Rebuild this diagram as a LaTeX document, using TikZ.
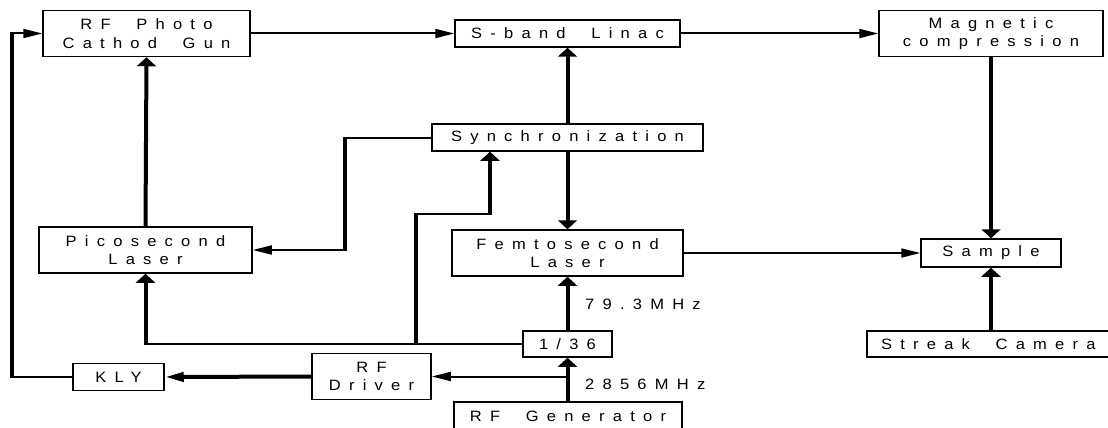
\documentclass[tikz,border=0pt]{standalone}
\usepackage{fontspec}
\setmainfont{Liberation Sans}[LetterSpace=55,FakeStretch=1.1,WordSpace=2]
\usetikzlibrary{arrows.meta,calc}
\begin{document}
\begin{tikzpicture}[x=1pt,y=-1pt,
  box/.style={draw,line width=1.5pt,inner sep=0pt,align=center,
    font=\fontsize{15}{18.5}\selectfont},
  lbl/.style={inner sep=0pt,anchor=west,font=\fontsize{15}{18.5}\selectfont},
  thinln/.style={line width=2pt},
  thickln/.style={line width=4pt},
  seg/.style={line width=4pt,line cap=rect,shorten <=1pt,shorten >=1pt},
  harr/.style={-{Triangle[length=19pt,width=9pt]}},
  varr/.style={-{Triangle[length=9pt,width=19pt]}}]
\useasboundingbox (0,0) rectangle (1108,428);
\clip (0,0) rectangle (1108,428);
% nodes
\node[box,minimum width=207pt,minimum height=46pt] (gun) at (146.5,33.5) {RF Photo\\Cathod Gun};
\node[box,minimum width=225pt,minimum height=27pt] (lin) at (567.5,33.5) {S-band Linac};
\node[box,minimum width=224pt,minimum height=46pt] (mag) at (991,33.5) {Magnetic\\compression};
\node[box,minimum width=271pt,minimum height=27pt] (syn) at (567.5,137.5) {Synchronization};
\node[box,minimum width=213pt,minimum height=46pt] (pic) at (145.5,250) {Picosecond\\Laser};
\node[box,minimum width=231pt,minimum height=46pt] (fem) at (567.5,253) {Femtosecond\\Laser};
\node[box,minimum width=140pt,minimum height=28pt] (sam) at (991,253) {Sample};
\node[box,minimum width=253pt,minimum height=26pt] (stk) at (993.5,344) {\makebox[253pt][l]{\hspace*{14pt}Streak Camera}};
\node[box,minimum width=89pt,minimum height=26pt] (div) at (567.5,344) {1/36};
\node[box,minimum width=119pt,minimum height=46pt] (drv) at (371.5,376.5) {RF\\Driver};
\node[box,minimum width=91pt,minimum height=27pt] (kly) at (118.5,377) {KLY};
\node[box,minimum width=228pt,minimum height=28pt] (gen) at (568,416) {RF Generator};
\node[lbl] (f1) at (585,304) {79.3MHz};
\node[lbl] (f2) at (585,384) {2856MHz};
% coordinates
\coordinate (s1) at (345,137.5);
\coordinate (s2) at (345,250);
\coordinate (d1) at (145.5,344);
\coordinate (b1) at (416,344);
\coordinate (b2) at (416,214);
\coordinate (b3) at (490,214);
\coordinate (k1) at (12,377);
\coordinate (k2) at (12,33.5);
% connectors
\draw[thinln,harr] (gun.east) -- (lin.west);
\draw[thinln,harr] (lin.east) -- (mag.west);
\draw[thickln,varr] (mag.south) -- (sam.north);
\draw[thickln,varr] (syn.north) -- (lin.south);
\draw[thickln,varr] (syn.south) -- (fem.north);
\draw[thickln,varr] (pic.north) -- (gun.south);
\draw[thinln,harr] (fem.east) -- (sam.west);
\draw[thickln,varr] (sam.south |- stk.north) -- (sam.south);
\draw[thickln,varr] (div.north) -- (fem.south);
\draw[thickln,varr] (gen.north -| div.south) -- (div.south);
\draw[thinln,harr] (drv.east -| div.south) -- (drv.east);
\draw[thickln,harr] (drv.west) -- (kly.east);
% sync -> picosecond
\draw[thinln] (syn.west) -- (s1);
\draw[seg] (s1) -- (s2);
\draw[thinln,harr] (s2) -- (pic.east);
% 1/36 -> picosecond and synchronization
\draw[thinln] (div.west) -- (d1);
\draw[thickln,varr] ($(d1)+(0,1)$) -- (pic.south);
\draw[seg] (b1) -- (b2);
\draw[thinln] (b2) -- (b3);
\draw[thickln,varr] ($(b3)+(0,1)$) -- (b3 |- syn.south);
% KLY -> gun
\draw[thinln] (kly.west) -- (k1);
\draw[seg] (k1) -- (k2);
\draw[thinln,harr] (k2) -- (gun.west);
\end{tikzpicture}
\end{document}
